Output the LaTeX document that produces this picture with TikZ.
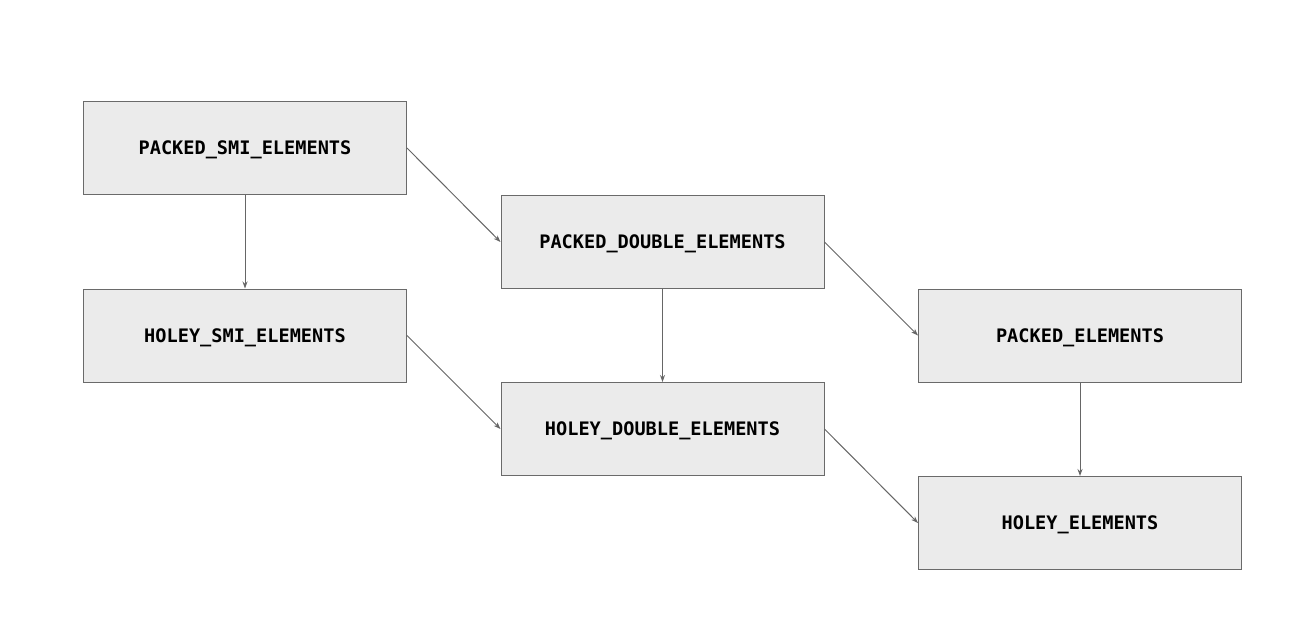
\documentclass[tikz,border=0pt]{standalone}
\usepackage{fontspec}
\setmonofont{DejaVu Sans Mono}
\usetikzlibrary{arrows.meta}
\definecolor{boxfill}{HTML}{EBEBEB}
\definecolor{boxline}{HTML}{6A6A6A}
\definecolor{arrline}{HTML}{666666}
\begin{document}
\begin{tikzpicture}[x=1pt,y=-1pt,
  kindbox/.style={rectangle, fill=boxfill, draw=boxline, line width=1pt,
    minimum width=323pt, minimum height=93pt, inner sep=0pt,
    text height=13.6pt, text depth=0pt,
    font=\fontsize{18.6pt}{20pt}\selectfont\ttfamily\bfseries},
  conn/.style={draw=arrline, line width=1pt, -{Stealth[length=7pt,width=5pt]}}]
\fill[white] (0,0) rectangle (1305,639);
\useasboundingbox (0,0) rectangle (1305,639);
\node[kindbox] (psmi) at (245,148) {PACKED\_SMI\_ELEMENTS};
\node[kindbox] (hsmi) at (245,335.5) {HOLEY\_SMI\_ELEMENTS};
\node[kindbox] (pdbl) at (662.5,242) {PACKED\_DOUBLE\_ELEMENTS};
\node[kindbox] (hdbl) at (662.5,429) {HOLEY\_DOUBLE\_ELEMENTS};
\node[kindbox] (pel) at (1080,335.5) {PACKED\_ELEMENTS};
\node[kindbox] (hel) at (1080,523) {HOLEY\_ELEMENTS};
\draw[conn] (psmi.south) -- (hsmi.north);
\draw[conn] (psmi.east) -- (pdbl.west);
\draw[conn] (pdbl.east) -- (pel.west);
\draw[conn] (hsmi.east) -- (hdbl.west);
\draw[conn] (pdbl.south) -- (hdbl.north);
\draw[conn] (hdbl.east) -- (hel.west);
\draw[conn] (pel.south) -- (hel.north);
\end{tikzpicture}
\end{document}
